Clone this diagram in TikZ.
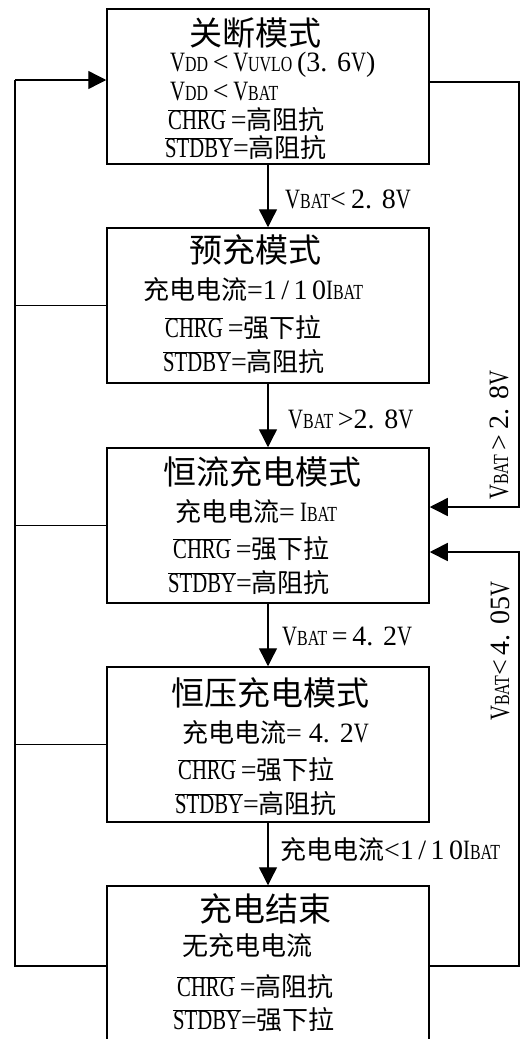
\documentclass[tikz,border=0pt]{standalone}
\usepackage{fontspec}
\setmainfont{Liberation Serif}[FakeStretch=0.74]
\newfontfamily\dg{Liberation Serif}
\newfontfamily\dgw{Liberation Serif}[LetterSpace=16]
\newfontfamily\cjk{Noto Sans CJK SC}
\usetikzlibrary{arrows.meta}
\newcommand\sm[1]{{\fontsize{21.5}{22}\selectfont #1}}
\newcommand\fdot{.\kern0.35em}
\newcommand\ol[1]{$\overline{\hbox{#1}}$}
\newcommand\zh[1]{{\cjk\fontsize{26}{28}\selectfont #1}}
\tikzset{
  box/.style={draw, line width=1.5pt, minimum width=322pt, minimum height=155pt, inner sep=0pt},
  txt/.style={anchor=west, inner sep=0pt, font=\fontsize{28}{30}\selectfont},
  ttl/.style={inner sep=0pt, font=\fontsize{33}{36}\selectfont\cjk},
  lbl/.style={anchor=west, inner sep=0pt, font=\fontsize{28}{30}\selectfont},
  rlbl/.style={rotate=90, inner sep=0pt, font=\fontsize{28}{30}\selectfont},
  conn/.style={line width=1.4pt},
  arr/.style={line width=1.4pt, -{Triangle[length=18pt,width=18pt]}}
}
\begin{document}
\begin{tikzpicture}[x=1pt,y=-1pt]
\useasboundingbox (0,0) rectangle (520,1039);
\clip (0,0) rectangle (520,1039);
% boxes
\node[box] (b1) at (268,86.5) {};
\node[box] (b2) at (268,305.5) {};
\node[box] (b3) at (268,525.5) {};
\node[box] (b4) at (268,744.5) {};
\node[box, minimum height=160pt] (b5) at (268,966) {};
% box 1
\node[ttl] (t1) at (255.5,33) {关断模式};
\node[txt] (t1a) at (170,65) {V\sm{DD}\,{\dg<}\,V\sm{UVLO}\,{\dg(3\fdot6}V{\dg)}};
\node[txt] (t1b) at (170,92) {V\sm{DD}\,{\dg<}\,V\sm{BAT}};
\node[txt] (t1c) at (168,120) {\ol{CHRG} {\dg=}\zh{高阻抗}};
\node[txt] (t1d) at (165,148) {\ol{STDBY}{\dg=}\zh{高阻抗}};
% box 2
\node[ttl] (t2) at (255,250) {预充模式};
\node[txt] (t2a) at (143,290) {\zh{充电电流}{\dg=}{\dgw 1/10}I\sm{BAT}};
\node[txt] (t2b) at (165,328) {\ol{CHRG} {\dg=}\zh{强下拉}};
\node[txt] (t2c) at (163,362) {\ol{STDBY}{\dg=}\zh{高阻抗}};
% box 3
\node[ttl] (t3) at (262.5,472) {恒流充电模式};
\node[txt] (t3a) at (175,512) {\zh{充电电流}{\dg=} I\sm{BAT}};
\node[txt] (t3b) at (173,549) {\ol{CHRG} {\dg=}\zh{强下拉}};
\node[txt] (t3c) at (168,583) {\ol{STDBY}{\dg=}\zh{高阻抗}};
% box 4
\node[ttl] (t4) at (270,693) {恒压充电模式};
\node[txt] (t4a) at (182,733) {\zh{充电电流}{\dg= 4\fdot2}V};
\node[txt] (t4b) at (178,770) {\ol{CHRG} {\dg=}\zh{强下拉}};
\node[txt] (t4c) at (175,804) {\ol{STDBY}{\dg=}\zh{高阻抗}};
% box 5
\node[ttl] (t5) at (265.5,909) {充电结束};
\node[txt] (t5a) at (182,946) {\zh{无充电电流}};
\node[txt] (t5b) at (177,987) {\ol{CHRG} {\dg=}\zh{高阻抗}};
\node[txt] (t5c) at (173,1020) {\ol{STDBY}{\dg=}\zh{强下拉}};
% vertical arrows
\draw[arr] (b1.south) -- (b2.north);
\draw[arr] (b2.south) -- (b3.north);
\draw[arr] (b3.south) -- (b4.north);
\draw[arr] (b4.south) -- (b5.north);
\node[lbl] (l1) at (285,199) {V\sm{BAT}{\dg<}\ {\dg 2\fdot8}V};
\node[lbl] (l2) at (288,419) {V\sm{BAT}\,{\dg>}{\dg 2\fdot8}V};
\node[lbl] (l3) at (282,636) {V\sm{BAT}\,{\dg=}\,{\dg 4\fdot2}V};
\node[lbl] (l4) at (280,850) {\zh{充电电流}{\dg<}{\dgw 1/10}I\sm{BAT}};
% left return
\coordinate (lt) at (15,80);
\draw[conn] (b5.west) -| (lt);
\draw[arr] (lt) -- (b1.west |- lt);
\draw[conn] (b2.west) -- (b2.west -| lt);
\draw[conn] (b3.west) -- (b3.west -| lt);
\draw[conn] (b4.west) -- (b4.west -| lt);
% right returns
\coordinate (rt) at (519,82);
\coordinate (rb) at (519,507);
\draw[arr] (b1.east |- rt) -- (rt) -- (rb) -- (b3.east |- rb);
\coordinate (rb2) at (519,552);
\draw[arr, line width=1.8pt] (b5.east) -| (rb2) -- (b3.east |- rb2);
\node[rlbl] (r1) at (499,435) {V\sm{BAT}\,{\dg>}\,{\dg 2\fdot8}V};
\node[rlbl] (r2) at (500,651) {V\sm{BAT}{\dg<}\,{\dg 4\fdot05}V};
\end{tikzpicture}
\end{document}
